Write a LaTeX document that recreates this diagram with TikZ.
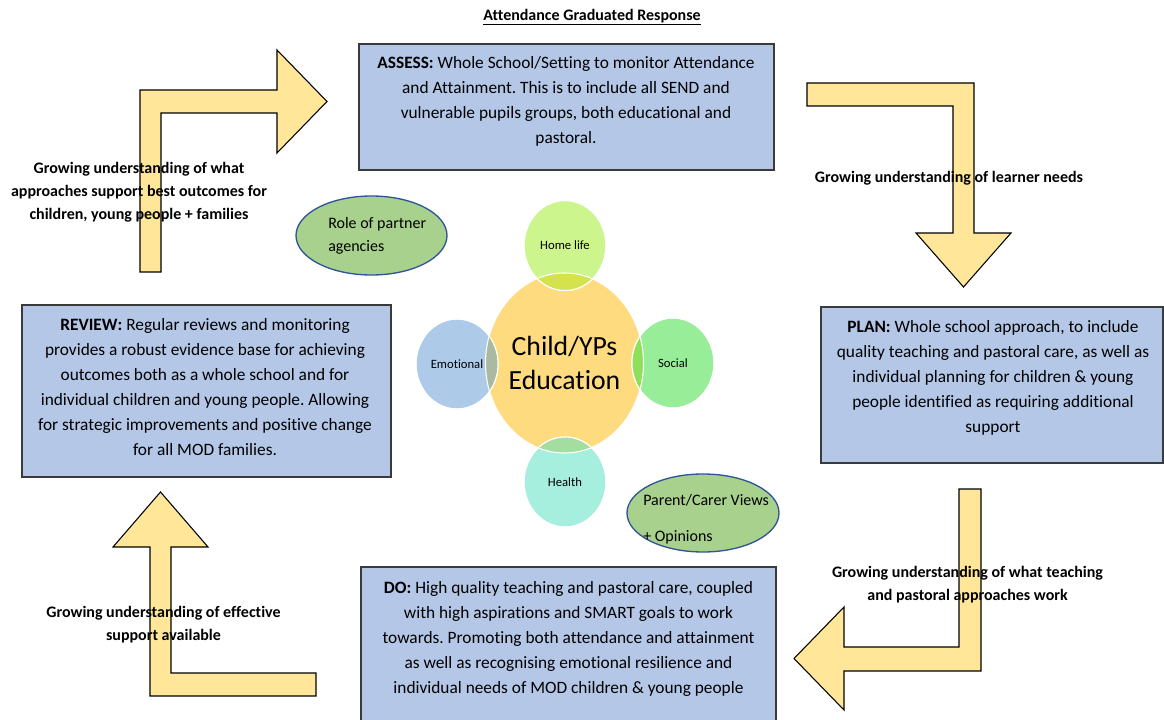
\documentclass[tikz,border=0pt]{standalone}
\usepackage{fontspec}
\setmainfont{Carlito}[Ligatures=NoCommon]
\usetikzlibrary{shapes.geometric}
\frenchspacing
\definecolor{boxblue}{HTML}{B4C7E7}
\definecolor{boxedge}{HTML}{3A3A3A}
\definecolor{arrowyellow}{HTML}{FFE699}
\definecolor{centreyellow}{HTML}{FFDB80}
\definecolor{homegreen}{HTML}{CDF58D}
\definecolor{socialgreen}{HTML}{98EE98}
\definecolor{emotionblue}{HTML}{ADCBE9}
\definecolor{healthteal}{HTML}{A6EEDD}
\definecolor{homeover}{HTML}{D3E24D}
\definecolor{socialover}{HTML}{8EE05B}
\definecolor{emotionover}{HTML}{AAB9A2}
\definecolor{healthover}{HTML}{A3DEA0}
\definecolor{agencygreen}{HTML}{A9D18E}
\definecolor{agencyblue}{HTML}{2F5597}
\begin{document}
\begin{tikzpicture}[x=0.75pt,y=-0.75pt]
\tikzstyle{stage}=[draw=boxedge, fill=boxblue, line width=0.9pt]
\tikzstyle{stagetext}=[align=center, inner sep=0pt, font=\fontsize{13}{18.75}\selectfont]
\tikzstyle{bentarrow}=[draw=black, fill=arrowyellow, line width=0.8pt, line join=miter]
\tikzstyle{growing}=[align=center, inner sep=0pt, font=\fontsize{12}{17.25}\selectfont\bfseries]
\tikzstyle{factor}=[ellipse, draw=white, line width=0.8pt, minimum width=61.5pt, minimum height=67.5pt, inner sep=0pt, font=\fontsize{9.5}{11}\selectfont]
\tikzstyle{voice}=[ellipse, draw=agencyblue, fill=agencygreen, line width=1pt, inner sep=0pt]
\tikzstyle{voicetext}=[align=left, anchor=west, inner sep=0pt]
\useasboundingbox (0,0) rectangle (1164,720);

\node [font=\fontsize{12}{14}\selectfont\bfseries] (title) at (592,17) {\underline{Attendance Graduated Response}};

\draw [stage] (359,44) rectangle (774,170);
\draw [stage] (821,307) rectangle (1163,463);
\draw [stage] (22,305) rectangle (391,477);
\draw [stage] (361,567) rectangle (776,730);

\node [stagetext] (assess) at (566,101.5) {\textbf{ASSESS:} Whole School/Setting to monitor Attendance\\and Attainment. This is to include all SEND and\\vulnerable pupils groups, both educational and\\pastoral.};
\node [stagetext] (plan) at (993,377.5) {\textbf{PLAN:} Whole school approach, to include\\quality teaching and pastoral care, as well as\\individual planning for children \& young\\people identified as requiring additional\\support};
\node [stagetext] (review) at (205,387.5) {\textbf{REVIEW:} Regular reviews and monitoring\\provides a robust evidence base for achieving\\outcomes both as a whole school and for\\individual children and young people. Allowing\\for strategic improvements and positive change\\for all MOD families.};
\node [stagetext] (do) at (568.5,638.5) {\textbf{DO:} High quality teaching and pastoral care, coupled\\with high aspirations and SMART goals to work\\towards. Promoting both attendance and attainment\\as well as recognising emotional resilience and\\individual needs of MOD children \& young people};

\draw [bentarrow] (140,272) -- (140,90) -- (277,90) -- (277,50) -- (327,101.5) -- (277,153) -- (277,113) -- (161,113) -- (161,272) -- cycle;
\draw [bentarrow] (807,83) -- (974,83) -- (974,233) -- (1011,233) -- (963.5,287) -- (916,233) -- (953,233) -- (953,106) -- (807,106) -- cycle;
\draw [bentarrow] (981,489) -- (981,671) -- (844,671) -- (844,710) -- (794,658.5) -- (844,607) -- (844,647) -- (959,647) -- (959,489) -- cycle;
\draw [bentarrow] (316,696) -- (150,696) -- (150,547) -- (113,547) -- (160.5,492) -- (208,547) -- (171,547) -- (171,673) -- (316,673) -- cycle;

\node [growing] (outcomes) at (139,192.5) {Growing understanding of what\\approaches support best outcomes for\\children, young people + families};
\node [growing] (needs) at (949,178) {Growing understanding of learner needs};
\node [growing] (works) at (967.5,584.5) {Growing understanding of what teaching\\and pastoral approaches work};
\node [growing] (support) at (163.5,624.5) {Growing understanding of effective\\support available};

\node [ellipse, draw=white, line width=0.8pt, fill=centreyellow, minimum width=118.5pt, minimum height=135pt, inner sep=0pt, align=center, font=\fontsize{20.8}{25.5}\selectfont] (centre) at (564.5,363) {Child/YPs\\Education};
\node [factor, fill=homegreen] (home) at (565,245.5) {Home life};
\node [factor, fill=emotionblue] (emotional) at (457,364) {Emotional};
\node [factor, fill=socialgreen] (social) at (673,363) {Social};
\node [factor, fill=healthteal] (health) at (565,482) {Health};
\begin{scope}
\clip (centre.center) ellipse [x radius=79, y radius=90];
\fill [homeover] (home.center) ellipse [x radius=41, y radius=45];
\fill [emotionover] (emotional.center) ellipse [x radius=41, y radius=45];
\fill [socialover] (social.center) ellipse [x radius=41, y radius=45];
\fill [healthover] (health.center) ellipse [x radius=41, y radius=45];
\end{scope}
\draw [white, line width=0.8pt] (centre.center) ellipse [x radius=79, y radius=90];
\foreach \f in {home, emotional, social, health}
  \draw [white, line width=0.8pt] (\f.center) ellipse [x radius=41, y radius=45];

\node [voice, minimum width=113.25pt, minimum height=59.25pt] (partners) at (371.5,235.5) {};
\node [voicetext, font=\fontsize{12}{17.25}\selectfont] (partnerstext) at (328,235.5) {Role of partner\\agencies};
\node [voice, minimum width=114pt, minimum height=58.5pt] (parents) at (703,513) {};
\node [voicetext, font=\fontsize{12}{27}\selectfont] (parentstext) at (643,519) {Parent/Carer Views\\+ Opinions};
\end{tikzpicture}
\end{document}
